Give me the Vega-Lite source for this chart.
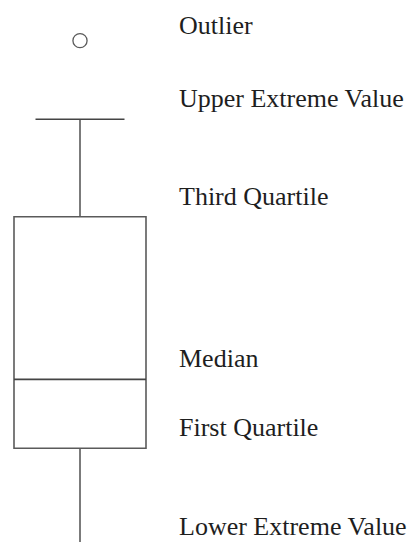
{
  "$schema": "https://vega.github.io/schema/vega-lite/v6.json",
  "width": 411,
  "height": 542,
  "autosize": {"type": "fit", "contains": "padding"},
  "padding": 0,
  "background": "white",
  "config": {"view": {"stroke": null}},
  "data": {
    "values": [
      {"key": "outlier", "label": "Outlier", "value": 92.5},
      {"key": "upper", "label": "Upper Extreme Value", "value": 78},
      {"key": "q3", "label": "Third Quartile", "value": 60},
      {"key": "median", "label": "Median", "value": 30},
      {"key": "q1", "label": "First Quartile", "value": 17.3},
      {"key": "lower", "label": "Lower Extreme Value", "value": -1}
    ]
  },
  "encoding": {
    "x": {"datum": "box", "type": "nominal", "scale": {"type": "point", "domain": ["box", "label"], "range": [80, 179], "padding": 0}, "axis": null}
  },
  "layer": [
    {
      "transform": [{"pivot": "key", "value": "value"}],
      "layer": [
        {
          "mark": {"type": "rule", "color": "#5a5a5a", "strokeWidth": 1.6, "clip": true},
          "encoding": {
            "y": {"field": "lower", "type": "quantitative", "scale": {"domain": [0, 100], "nice": false, "zero": false}, "axis": null},
            "y2": {"field": "q1"}
          }
        },
        {
          "mark": {"type": "rule", "color": "#5a5a5a", "strokeWidth": 1.6},
          "encoding": {
            "y": {"field": "q3", "type": "quantitative"},
            "y2": {"field": "upper"}
          }
        },
        {
          "mark": {"type": "bar", "size": 132, "fill": "white", "stroke": "#5a5a5a", "strokeWidth": 1.6, "opacity": 1},
          "encoding": {
            "y": {"field": "q1", "type": "quantitative"},
            "y2": {"field": "q3"}
          }
        },
        {
          "mark": {"type": "tick", "size": 132, "thickness": 1.6, "color": "#444444", "opacity": 1, "orient": "horizontal"},
          "encoding": {
            "y": {"field": "median", "type": "quantitative"}
          }
        },
        {
          "mark": {"type": "tick", "size": 89, "thickness": 1.6, "color": "#444444", "opacity": 1, "orient": "horizontal"},
          "encoding": {
            "y": {"field": "upper", "type": "quantitative"}
          }
        },
        {
          "mark": {"type": "point", "shape": "circle", "size": 200, "filled": false, "stroke": "#5a5a5a", "strokeWidth": 1.3, "opacity": 1},
          "encoding": {
            "y": {"field": "outlier", "type": "quantitative"}
          }
        }
      ]
    },
    {
      "transform": [{"filter": "datum.key !== 'outlier'"}],
      "mark": {"type": "text", "align": "left", "baseline": "alphabetic", "dy": -12, "font": "Liberation Serif", "fontSize": 26, "color": "#1e1e1e"},
      "encoding": {
        "x": {"datum": "label", "type": "nominal"},
        "y": {"field": "value", "type": "quantitative"},
        "text": {"field": "label"}
      }
    },
    {
      "transform": [{"filter": "datum.key === 'outlier'"}],
      "mark": {"type": "text", "align": "left", "baseline": "alphabetic", "dy": -6.5, "font": "Liberation Serif", "fontSize": 26, "color": "#1e1e1e"},
      "encoding": {
        "x": {"datum": "label", "type": "nominal"},
        "y": {"field": "value", "type": "quantitative"},
        "text": {"field": "label"}
      }
    }
  ]
}
